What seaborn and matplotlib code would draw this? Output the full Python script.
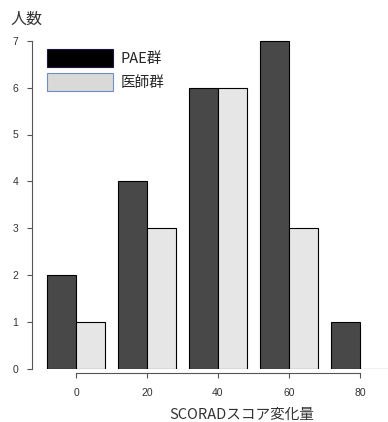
import pandas as pd
import matplotlib.pyplot as plt
import seaborn as sns
from matplotlib.patches import Patch

# data
bins = ['0', '20', '40', '60', '80']
pae = [2, 4, 6, 7, 1]
doctor = [1, 3, 6, 3, 0]
groups = ['PAE群', '医師群']

df = pd.DataFrame({
    'bin': bins * 2,
    'count': pae + doctor,
    'group': [groups[0]] * len(bins) + [groups[1]] * len(bins),
})

sns.set_style('white')
plt.rcParams['font.family'] = ['Liberation Sans', 'Noto Sans CJK JP', 'DejaVu Sans']
cjk = ['Noto Sans CJK JP', 'DejaVu Sans']

W, H = 388, 422
fig = plt.figure(figsize=(W / 100, H / 100), dpi=100)
# axes placed in pixels: left spine at x=32, baseline at y=369
left_px, right_px, bottom_px, top_px = 32, 388, 369, 35
ax = fig.add_axes([left_px / W, (H - bottom_px) / H,
                   (right_px - left_px) / W, (bottom_px - top_px) / H])

sns.barplot(data=df, x='bin', y='count', hue='group', order=bins,
            hue_order=groups, palette=['#484848', '#e6e6e6'],
            width=0.83, gap=0, edgecolor='black', linewidth=0.8,
            legend=False, ax=ax)

# 71 px per category, category 0 centred at px 76
ax.set_xlim((left_px - 76) / 71, (right_px - 76) / 71)
ax.set_ylim(0, (bottom_px - top_px) / 46.9)
ax.set_yticks(range(0, 8))
ax.set_xlabel('')
ax.set_ylabel('')

sns.despine(ax=ax)
ax.spines['left'].set_bounds(0, 7)
ax.spines['bottom'].set_bounds(0, 4)
ax.spines['bottom'].set_position(('outward', 3))
for s in ['left', 'bottom']:
    ax.spines[s].set_color('#555555')
    ax.spines[s].set_linewidth(0.8)
ax.tick_params(axis='both', direction='out', length=3.8, width=0.8,
               color='#555555', labelsize=7.5, labelcolor='#333333',
               left=True, bottom=True)
ax.tick_params(axis='y', pad=6)
ax.tick_params(axis='x', pad=7)

handles = [Patch(facecolor='black', edgecolor='#1a1a40', linewidth=0.8),
           Patch(facecolor='#d9d9d9', edgecolor='#6f8fc0', linewidth=0.8)]
fig.legend(handles, groups, loc='upper left',
           bbox_to_anchor=(47 / W, 1 - 49 / H), frameon=False,
           prop={'family': cjk, 'size': 10.5},
           handlelength=4.5, handleheight=1.5,
           labelspacing=0.45, handletextpad=0.55, borderpad=0,
           borderaxespad=0)

fig.text(10 / W, 1 - 19 / H, '人数', fontsize=11.5, va='center', ha='left',
         color='#333333', family=cjk)
fig.text(242 / W, 1 - 415 / H, 'SCORADスコア変化量', fontsize=10.5,
         va='center', ha='center', color='#333333', family=cjk)

fig.savefig('out.png', dpi=100)
